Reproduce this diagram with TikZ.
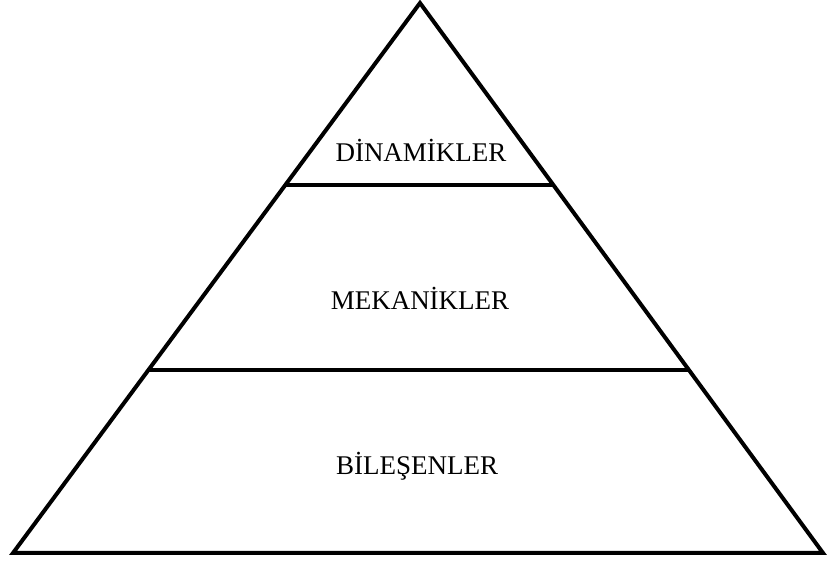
\documentclass[tikz,border=0pt]{standalone}
\usepackage{fontspec}
\setmainfont{Liberation Serif}
\usetikzlibrary{calc}
\begin{document}
\begin{tikzpicture}[x=1pt,y=1pt,
  edge/.style={line width=4pt,line join=miter},
  label/.style={font=\fontsize{27}{31}\selectfont,inner sep=0pt}]
\useasboundingbox (0,0) rectangle (827,562);
\coordinate (A) at (420,559);
\coordinate (L) at (13,9);
\coordinate (R) at (823,9);
\draw[edge] (A) -- (L) -- (R) -- cycle;
\coordinate (l1) at ($(A)!0.3309!(L)$);
\coordinate (r1) at ($(A)!0.3309!(R)$);
\coordinate (l2) at ($(A)!0.6673!(L)$);
\coordinate (r2) at ($(A)!0.6673!(R)$);
\draw[edge] (l1) -- (r1);
\draw[edge] (l2) -- (r2);
\node[label] (d) at (421,412) {DİNAMİKLER};
\node[label] (m) at (420,264) {MEKANİKLER};
\node[label] (b) at (417,96) {BİLEŞENLER};
\end{tikzpicture}
\end{document}
